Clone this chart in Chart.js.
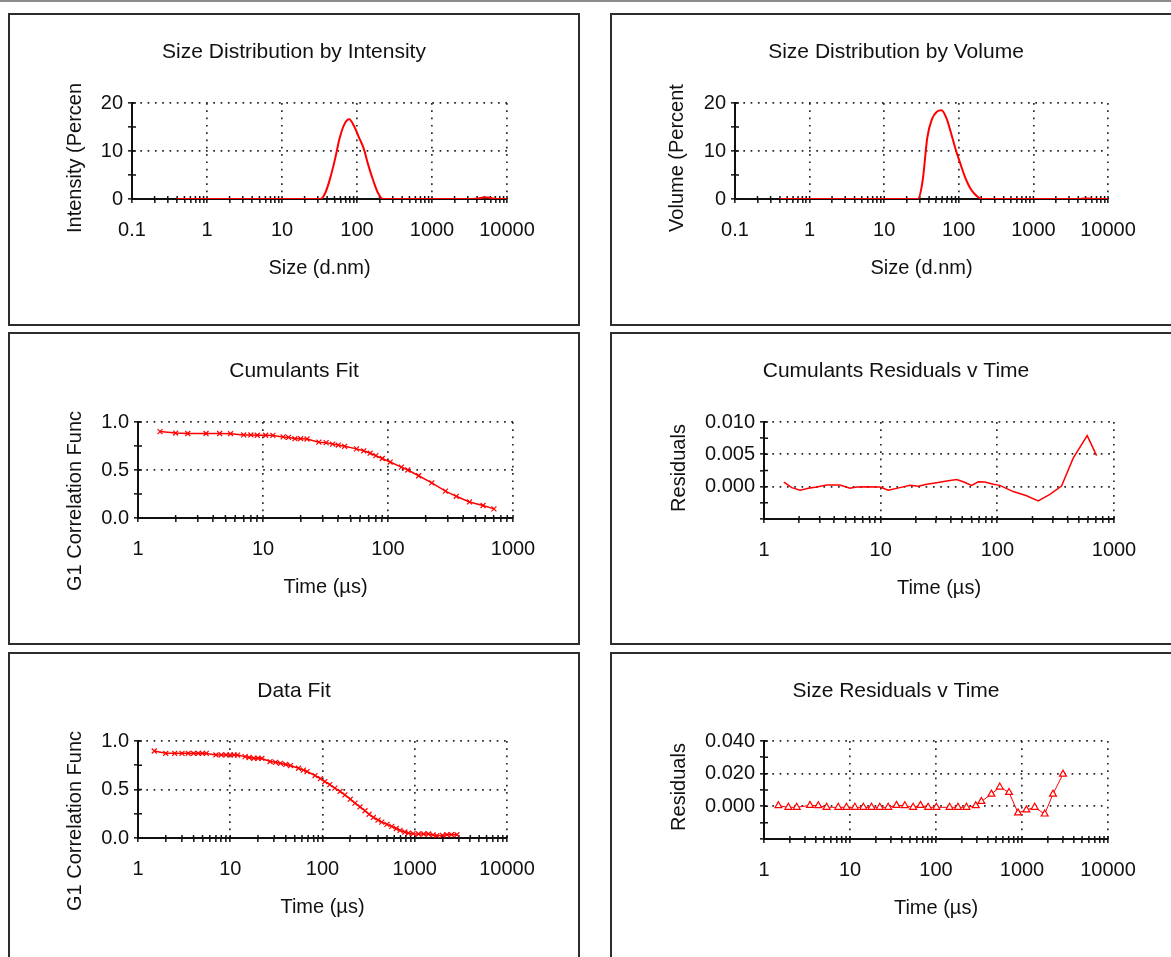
<!DOCTYPE html>
<html><head><meta charset="utf-8">
<script src="https://cdn.jsdelivr.net/npm/chart.js@4.4.1/dist/chart.umd.min.js"></script>
<style>
html,body{margin:0;padding:0;background:#fff;overflow:hidden;width:1171px;height:957px;}
#topline{position:absolute;left:0;top:0;width:1171px;height:2px;background:#8c8c8c;}
.panel{position:absolute;width:568px;height:309px;border:2px solid #2d2d2d;background:#fff;}
.panel canvas{position:absolute;left:0;top:0;}
</style></head>
<body>
<div id="topline"></div>
<div class="panel" style="left:8px;top:13px"><canvas id="c1" width="568" height="309"></canvas></div>
<div class="panel" style="left:610px;top:13px"><canvas id="c2" width="568" height="309"></canvas></div>
<div class="panel" style="left:8px;top:332px"><canvas id="c3" width="568" height="309"></canvas></div>
<div class="panel" style="left:610px;top:332px"><canvas id="c4" width="568" height="309"></canvas></div>
<div class="panel" style="left:8px;top:652px"><canvas id="c5" width="568" height="309"></canvas></div>
<div class="panel" style="left:610px;top:652px"><canvas id="c6" width="568" height="309"></canvas></div>
<script>
// ---------- DATA ----------
const SIZE_BINS_NM = [0.4,0.4632,0.5365,0.6213,0.7195,0.8332,0.9649,1.117,1.294,1.499,1.736,2.01,2.328,2.696,3.122,3.615,4.187,4.849,5.615,6.503,7.531,8.721,10.1,11.7,13.54,15.69,18.17,21.04,24.36,28.21,32.67,37.84,43.82,50.75,58.77,68.06,78.82,91.28,105.7,122.4,141.8,164.2,190.1,220.2,255.0,295.3,342.0,396.1,458.7,531.2,615.1,712.4,825.0,955.4,1106,1281,1484,1718,1990,2305,2669,3091,3580,4145,4801,5560,6439,7456,8635,10000];
const INTENSITY_PCT = [0,0,0,0,0,0,0,0,0,0,0,0,0,0,0,0,0,0,0,0,0,0,0,0,0,0,0,0,0,0,0,1.3,4.3,8.2,12.7,15.6,16.6,15.2,12.9,10.6,7.0,3.9,1.3,0,0,0,0,0,0,0,0,0,0,0,0,0,0,0,0,0,0,0,0,0.1,0.3,0.3,0.1,0,0,0];
const VOLUME_PCT = [0,0,0,0,0,0,0,0,0,0,0,0,0,0,0,0,0,0,0,0,0,0,0,0,0,0,0,0,0,0,3.7,12.8,16.7,18.2,18.5,16.9,13.7,10.2,7.2,4.4,2.3,1.0,0.2,0,0,0,0,0,0,0,0,0,0,0,0,0,0,0,0,0,0,0,0,0,0.1,0.1,0,0,0,0];

const CUM_TIME_US = [1.5,2,2.5,3.5,4.5,5.5,7,8,9,10.5,12,14.5,16,18,20,22.5,28,32,36,40,45,56,64,72,80,90,104,128,144,176,224,288,352,448,576,704];
const CUM_FIT_G1 = [0.90,0.885,0.88,0.88,0.88,0.878,0.865,0.865,0.862,0.862,0.86,0.845,0.84,0.826,0.826,0.823,0.79,0.785,0.77,0.76,0.747,0.72,0.70,0.675,0.65,0.62,0.583,0.53,0.50,0.44,0.365,0.28,0.226,0.167,0.13,0.095];

const CUM_RES_TIME_US = [1.48,1.73,2.04,2.4,2.83,3.44,4.48,5.45,6.22,7.58,9.86,11.6,14.6,17.8,21,24.8,30.2,36.8,44.8,51,60.2,68.7,78.3,92.4,105,137,178,224,282,355,447,589,709];
const CUM_RESIDUALS = [0.00071,-0.00015,-0.00056,-0.00025,-0.00005,0.00025,0.00025,-0.00025,-0.00005,0,-0.00005,-0.00056,-0.00015,0.0002,0.00005,0.00036,0.0006,0.00086,0.0011,0.00076,0.0002,0.00076,0.00071,0.00036,0.0002,-0.00076,-0.0014,-0.0022,-0.0012,0.0001,0.0044,0.0079,0.0048];

const FIT_TIME_US = [1.5,2,2.5,3,3.5,4,4.5,5,5.5,7,8,9,10,11,12,14.5,16,18,20,22,27,31,35,40,45,55,62,68,83,95,106,120,136,155,175,200,225,255,289,320,356,400,439,500,564,630,693,780,855,960,1097,1250,1409,1580,1737,2000,2230,2500,2864];
const FIT_G1 = [0.897,0.873,0.873,0.873,0.873,0.873,0.873,0.873,0.872,0.856,0.856,0.856,0.856,0.856,0.855,0.839,0.83,0.822,0.822,0.82,0.788,0.78,0.77,0.758,0.747,0.719,0.70,0.685,0.644,0.612,0.582,0.55,0.514,0.48,0.445,0.40,0.36,0.32,0.281,0.245,0.212,0.185,0.164,0.14,0.12,0.098,0.079,0.062,0.051,0.045,0.041,0.041,0.041,0.032,0.024,0.028,0.034,0.034,0.034];

const SIZE_RES_TIME_US = [1.47,1.92,2.4,3.42,4.28,5.35,7.3,9.1,11.4,14.3,17.8,22.2,27.8,34.7,43.4,54.2,66,81,101,144,180,226,290,337,441,551,707,899,1125,1403,1836,2292,2995];
const SIZE_RESIDUALS = [0.0004,-0.0006,-0.0006,0.0006,0.0004,-0.0006,-0.0006,-0.0006,-0.0006,-0.0006,-0.0006,-0.0006,-0.0006,0.0006,0.0004,-0.0006,0.0006,-0.0006,-0.0006,-0.0006,-0.0006,-0.0006,0.0004,0.003,0.0075,0.0118,0.0085,-0.004,-0.0022,-0.0006,-0.0047,0.0075,0.0197];

// tick values / labels
const MINOR_MULT = [1,2,3,4,5,6,7,8,9];
const X_LABEL_VALUES_SIZE = [0.1,1,10,100,1000,10000];
const X_LABELS_SIZE = ['0.1','1','10','100','1000','10000'];
const X_LABEL_VALUES_T1000 = [1,10,100,1000];
const X_LABELS_T1000 = ['1','10','100','1000'];
const X_LABEL_VALUES_T10000 = [1,10,100,1000,10000];
const X_LABELS_T10000 = ['1','10','100','1000','10000'];
const Y_TICKS_PCT = [0,5,10,15,20];
const Y_LABEL_VALUES_PCT = [0,10,20];
const Y_LABELS_PCT = ['0','10','20'];
const Y_TICKS_G1 = [0,0.25,0.5,0.75,1.0];
const Y_LABEL_VALUES_G1 = [0,0.5,1.0];
const Y_LABELS_G1 = ['0.0','0.5','1.0'];
const Y_TICKS_CRES = [-0.005,-0.0025,0,0.0025,0.005,0.0075,0.010];
const Y_LABEL_VALUES_CRES = [0,0.005,0.010];
const Y_LABELS_CRES = ['0.000','0.005','0.010'];
const Y_TICKS_SRES = [-0.02,-0.01,0,0.01,0.02,0.03,0.04];
const Y_LABEL_VALUES_SRES = [0,0.02,0.04];
const Y_LABELS_SRES = ['0.000','0.020','0.040'];

// ---------- RENDER ----------
const FONT = "'Liberation Sans', Arial, sans-serif";
Chart.defaults.font.family = FONT;
Chart.defaults.color = '#111';
const RED = '#ff0000';
const INK = '#111';
const DOT = '#2a2a2a';
const CW = 568, CH = 309, XH = 81;

function logTicks(min, max){
  const out = [];
  for (let e = Math.round(Math.log10(min)); e < Math.round(Math.log10(max)); e++) {
    for (const m of MINOR_MULT) out.push(+(m * Math.pow(10, e)).toPrecision(6));
  }
  out.push(max);
  return out;
}
function findLabel(v, vals, texts, log){
  for (let i = 0; i < vals.length; i++) {
    const d = log ? Math.abs(Math.log10(v) - Math.log10(vals[i])) : Math.abs(v - vals[i]);
    if (d < 1e-7) return texts[i];
  }
  return null;
}

function xLog(min, max, vals, texts, title){
  return {
    type: 'logarithmic', position: 'bottom', min, max,
    afterBuildTicks: s => { s.ticks = logTicks(min, max).map(v => ({value: v})); },
    afterFit: s => { s.height = XH; },
    ticks: { autoSkip: false, maxRotation: 0, padding: 15, font: {size: 20}, color: INK,
      callback: v => findLabel(v, vals, texts, true) || '' },
    grid: { display: true, drawOnChartArea: true, drawTicks: true, tickLength: 4,
      color: c => (c.tick && findLabel(c.tick.value, vals, texts, true) !== null) ? DOT : 'rgba(0,0,0,0)',
      lineWidth: 1.7, tickColor: INK, tickWidth: 1.5 },
    border: { display: true, color: INK, width: 2, dash: [1.7, 5.6] },
    title: { display: true, text: title, font: {size: 20}, padding: 0, color: INK }
  };
}
function yLin(ticks, vals, texts, left){
  return {
    type: 'linear', position: 'left', min: ticks[0], max: ticks[ticks.length - 1],
    afterBuildTicks: s => { s.ticks = ticks.map(v => ({value: v})); },
    afterFit: s => { s.width = left; },
    ticks: { autoSkip: false, padding: 5, font: {size: 20}, color: INK,
      callback: v => findLabel(v, vals, texts, false) || '' },
    grid: { display: true, drawOnChartArea: true, drawTicks: true, tickLength: 4,
      color: c => (c.tick && findLabel(c.tick.value, vals, texts, false) !== null) ? DOT : 'rgba(0,0,0,0)',
      lineWidth: 1.7, tickColor: INK, tickWidth: 1.5 },
    border: { display: true, color: INK, width: 2, dash: [1.7, 5.6] }
  };
}
// blank right-hand spacer axis that only reserves room
function rightSpacer(w){
  return { type: 'linear', position: 'right', display: true,
    afterFit: s => { s.width = w; },
    ticks: { display: false }, grid: { display: false }, border: { display: false } };
}

const sideTitle = {
  id: 'sideTitle',
  afterDraw(chart, args, o){
    const ctx = chart.ctx;
    ctx.save();
    ctx.translate(o.x, o.y);
    ctx.rotate(-Math.PI / 2);
    ctx.font = '20px ' + FONT;
    ctx.fillStyle = INK;
    ctx.textAlign = 'center';
    ctx.textBaseline = 'middle';
    ctx.fillText(o.text, 0, 0);
    ctx.restore();
  }
};
const innerTicks = {
  id: 'innerTicks',
  beforeDatasetsDraw(chart){
    const {ctx, chartArea: a, scales} = chart;
    ctx.save();
    ctx.strokeStyle = INK; ctx.lineWidth = 1.5;
    ctx.beginPath();
    for (const t of scales.x.ticks) { const p = scales.x.getPixelForValue(t.value); ctx.moveTo(p, a.bottom); ctx.lineTo(p, a.bottom - 3); }
    for (const t of scales.y.ticks) { const p = scales.y.getPixelForValue(t.value); ctx.moveTo(a.left, p); ctx.lineTo(a.left + 4, p); }
    ctx.stroke();
    ctx.restore();
  }
};

function pts(xs, ys){ return xs.map((x, i) => ({x, y: ys[i]})); }

function make(id, cfg){
  const a = cfg.area;
  new Chart(document.getElementById(id), {
    type: 'line',
    data: { datasets: [cfg.dataset] },
    options: {
      responsive: false, animation: false, events: [],
      layout: { padding: { left: 0, right: 0, top: 0, bottom: CH - XH - a.bottom } },
      plugins: {
        legend: { display: false }, tooltip: { enabled: false },
        title: { display: true, text: cfg.title, font: {size: 21, weight: 'normal'}, color: INK,
          padding: { top: 25, bottom: a.top - 25 - 25.2 } },
        sideTitle: { text: cfg.ytitle, x: cfg.yt.x, y: cfg.yt.y }
      },
      scales: { x: cfg.x, y: cfg.y, r: rightSpacer(CW - a.right) }
    },
    plugins: [sideTitle, innerTicks]
  });
}

const lineOnly = (data, w) => ({ data, borderColor: RED, borderWidth: w, pointRadius: 0, fill: false, cubicInterpolationMode: 'monotone' });
const crossLine = data => ({ data, borderColor: RED, borderWidth: 1.5, pointStyle: 'crossRot', pointRadius: 3.5, pointBorderWidth: 1.2, pointBorderColor: RED, fill: false });

make('c1', {
  title: 'Size Distribution by Intensity', ytitle: 'Intensity (Percen', yt: {x: 65, y: 143},
  area: {left: 122, right: 497, top: 88, bottom: 184},
  x: xLog(0.1, 10000, X_LABEL_VALUES_SIZE, X_LABELS_SIZE, 'Size (d.nm)'),
  y: yLin(Y_TICKS_PCT, Y_LABEL_VALUES_PCT, Y_LABELS_PCT, 122),
  dataset: lineOnly(pts(SIZE_BINS_NM, INTENSITY_PCT), 2)
});
make('c2', {
  title: 'Size Distribution by Volume', ytitle: 'Volume (Percent', yt: {x: 65, y: 143},
  area: {left: 123, right: 496, top: 88, bottom: 184},
  x: xLog(0.1, 10000, X_LABEL_VALUES_SIZE, X_LABELS_SIZE, 'Size (d.nm)'),
  y: yLin(Y_TICKS_PCT, Y_LABEL_VALUES_PCT, Y_LABELS_PCT, 123),
  dataset: lineOnly(pts(SIZE_BINS_NM, VOLUME_PCT), 2)
});
make('c3', {
  title: 'Cumulants Fit', ytitle: 'G1 Correlation Func', yt: {x: 65, y: 167},
  area: {left: 128, right: 503, top: 88, bottom: 184},
  x: xLog(1, 1000, X_LABEL_VALUES_T1000, X_LABELS_T1000, 'Time (µs)'),
  y: yLin(Y_TICKS_G1, Y_LABEL_VALUES_G1, Y_LABELS_G1, 128),
  dataset: crossLine(pts(CUM_TIME_US, CUM_FIT_G1))
});
make('c4', {
  title: 'Cumulants Residuals v Time', ytitle: 'Residuals', yt: {x: 67, y: 134},
  area: {left: 152, right: 502, top: 88, bottom: 185},
  x: xLog(1, 1000, X_LABEL_VALUES_T1000, X_LABELS_T1000, 'Time (µs)'),
  y: yLin(Y_TICKS_CRES, Y_LABEL_VALUES_CRES, Y_LABELS_CRES, 152),
  dataset: { data: pts(CUM_RES_TIME_US, CUM_RESIDUALS), borderColor: RED, borderWidth: 1.5, pointRadius: 0, fill: false }
});
make('c5', {
  title: 'Data Fit', ytitle: 'G1 Correlation Func', yt: {x: 65, y: 167},
  area: {left: 128, right: 497, top: 87, bottom: 184},
  x: xLog(1, 10000, X_LABEL_VALUES_T10000, X_LABELS_T10000, 'Time (µs)'),
  y: yLin(Y_TICKS_G1, Y_LABEL_VALUES_G1, Y_LABELS_G1, 128),
  dataset: crossLine(pts(FIT_TIME_US, FIT_G1))
});
make('c6', {
  title: 'Size Residuals v Time', ytitle: 'Residuals', yt: {x: 67, y: 133},
  area: {left: 152, right: 496, top: 87, bottom: 185},
  x: xLog(1, 10000, X_LABEL_VALUES_T10000, X_LABELS_T10000, 'Time (µs)'),
  y: yLin(Y_TICKS_SRES, Y_LABEL_VALUES_SRES, Y_LABELS_SRES, 152),
  dataset: { data: pts(SIZE_RES_TIME_US, SIZE_RESIDUALS), borderColor: RED, borderWidth: 1, pointStyle: 'triangle', pointRadius: 4, pointBorderWidth: 1.2, pointBorderColor: RED, pointBackgroundColor: '#fff', fill: false }
});
</script>
</body></html>
